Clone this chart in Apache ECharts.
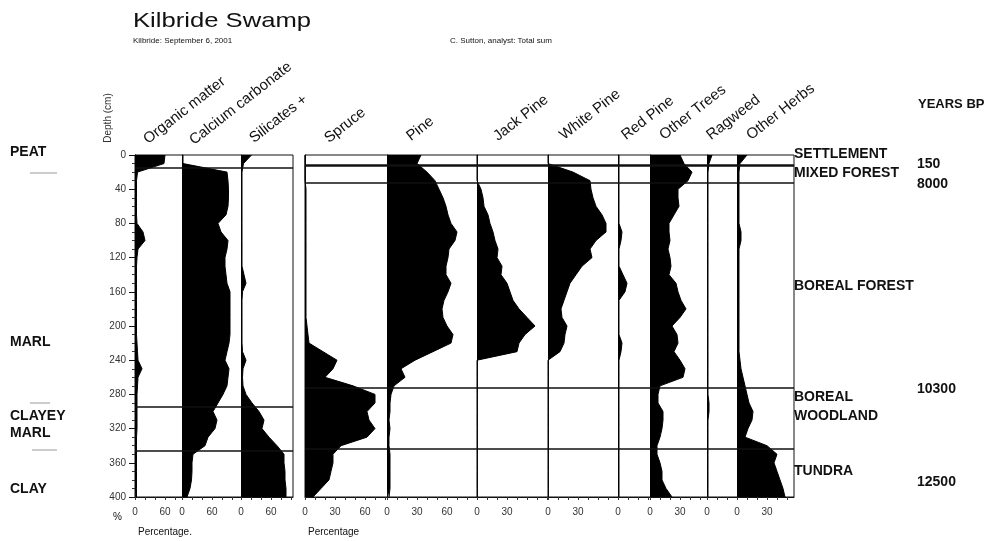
<!DOCTYPE html>
<html>
<head>
<meta charset="utf-8">
<title>Kilbride Swamp</title>
<script src="https://cdn.jsdelivr.net/npm/echarts@6/dist/echarts.min.js"></script>
<style>
html, body { margin: 0; padding: 0; background: #fff; }
#main { width: 991px; height: 541px; }
</style>
</head>
<body>
<div id="main"></div>
<script>
// depth of each sample (cm)
var depths = ['0', '10', '20', '30', '40', '50', '60', '70', '80', '90',
  '100', '110', '120', '130', '140', '150', '160', '170', '180', '190',
  '200', '210', '220', '230', '240', '250', '260', '270', '280', '290',
  '300', '310', '320', '330', '340', '350', '360', '370', '380', '390', '400'];

// sediment (%)
var organic = [60, 58, 5, 3, 3, 3, 3, 3, 4, 16, 20, 6, 4, 3, 3, 3, 3, 3, 3, 3,
  3, 3, 4, 5, 6, 14, 6, 5, 4, 4, 4, 4, 4, 3, 3, 3, 3, 3, 3, 3, 3];
var calcium = [2, 2, 90, 92, 93, 93, 92, 88, 72, 78, 92, 90, 86, 86, 88, 90, 96, 96, 96, 96,
  96, 96, 94, 90, 86, 94, 92, 90, 82, 72, 62, 70, 66, 52, 46, 22, 20, 20, 19, 16, 10];
var silicates = [21, 5, 2, 2, 2, 2, 2, 2, 2, 2, 2, 2, 2, 2, 6, 10, 3, 2, 2, 2,
  2, 2, 2, 3, 10, 4, 3, 4, 10, 22, 36, 46, 42, 56, 72, 86, 86, 88, 88, 90, 90];

// pollen (%)
var spruce = [0, 0, 0, 0, 1, 1, 1, 1, 1, 1, 1, 1, 1, 1, 1, 1, 1, 1, 1, 1,
  2, 3, 4, 18, 32, 28, 20, 48, 70, 70, 62, 64, 70, 62, 36, 28, 28, 26, 24, 16, 8];
var pine = [34, 30, 40, 48, 52, 56, 59, 61, 64, 70, 68, 62, 61, 59, 59, 64, 61, 57, 55, 56,
  60, 66, 64, 46, 28, 14, 18, 7, 4, 3, 3, 2, 3, 2, 2, 3, 3, 3, 3, 3, 2];
var jackPine = [0, 0, 0, 0, 4, 6, 7, 11, 13, 16, 18, 21, 20, 25, 24, 30, 33, 36, 42, 50,
  58, 48, 42, 40, 0, 0, 0, 0, 0, 0, 0, 0, 0, 0, 0, 0, 0, 0, 0, 0, 0];
var whitePine = [0, 0, 25, 42, 43, 45, 48, 54, 58, 58, 48, 42, 44, 34, 28, 22, 19, 16, 13, 14,
  19, 17, 16, 12, 0, 0, 0, 0, 0, 0, 0, 0, 0, 0, 0, 0, 0, 0, 0, 0, 0];
var redPine = [1, 1, 1, 1, 1, 1, 1, 1, 1, 4, 3, 1, 1, 1, 5, 9, 7, 1, 1, 1,
  1, 1, 4, 3, 1, 1, 1, 1, 1, 1, 1, 1, 1, 1, 1, 1, 1, 1, 1, 1, 1];
var otherTrees = [30, 34, 42, 38, 28, 28, 29, 24, 19, 19, 20, 18, 20, 21, 19, 26, 28, 31, 36, 30,
  22, 27, 28, 24, 30, 35, 33, 10, 8, 8, 13, 13, 12, 10, 7, 7, 10, 12, 12, 16, 22];
var ragweed = [5, 2, 1, 1, 1, 1, 1, 1, 1, 1, 1, 1, 1, 1, 1, 1, 1, 1, 1, 1,
  1, 1, 1, 1, 1, 1, 1, 1, 1, 2, 2, 1, 1, 1, 1, 1, 1, 1, 1, 1, 1];
var otherHerbs = [10, 3, 2, 2, 2, 2, 2, 2, 2, 4, 4, 2, 2, 2, 2, 2, 2, 2, 2, 2,
  2, 2, 2, 2, 3, 4, 6, 8, 10, 12, 16, 15, 11, 8, 30, 40, 37, 40, 43, 46, 48];

var columnNames = ['Organic matter', 'Calcium carbonate', 'Silicates +', 'Spruce', 'Pine',
  'Jack Pine', 'White Pine', 'Red Pine', 'Other Trees', 'Ragweed', 'Other Herbs'];
var columnData = [organic, calcium, silicates, spruce, pine, jackPine, whitePine,
  redPine, otherTrees, ragweed, otherHerbs];
var columnTicks = [[0, 60], [0, 60], [0, 60], [0, 30, 60], [0, 30, 60],
  [0, 30], [0, 30], [0], [0, 30], [0], [0, 30]];

// zone boundaries (cm)
var sedimentBounds = [15, 294, 346];
var pollenBounds = [12, 33, 272, 343];

// lithology / zone / age labels
var lithology = [['PEAT', 152], ['MARL', 342], ['CLAYEY', 416], ['MARL', 433], ['CLAY', 489]];
var zones = [['SETTLEMENT', 154], ['MIXED FOREST', 173], ['BOREAL FOREST', 286],
  ['BOREAL', 397], ['WOODLAND', 416], ['TUNDRA', 471]];
var ages = [['150', 164], ['8000', 184], ['10300', 389], ['12500', 482]];

// panel layout: left edge px, width px, axis max, tick step, header anchor
var layout = [
  {left: 135, width: 47, max: 94, step: 20, hx: 150, hy: 147},
  {left: 182, width: 59, max: 118, step: 20, hx: 196, hy: 148},
  {left: 241, width: 52, max: 104, step: 20, hx: 256, hy: 146},
  {left: 305, width: 82, max: 82, step: 10, hx: 331, hy: 146},
  {left: 387, width: 90, max: 90, step: 10, hx: 413, hy: 144},
  {left: 477, width: 71, max: 71, step: 10, hx: 500, hy: 144},
  {left: 548, width: 70, max: 70, step: 10, hx: 566, hy: 143},
  {left: 618, width: 32, max: 32, step: 10, hx: 628, hy: 143},
  {left: 650, width: 57, max: 57, step: 10, hx: 666, hy: 143},
  {left: 707, width: 30, max: 30, step: 10, hx: 713, hy: 143},
  {left: 737, width: 57, max: 57, step: 10, hx: 753, hy: 143}
];

var TOP = 155, HEIGHT = 342;
var FONT = '"Liberation Sans", Arial, sans-serif';

var grids = [], xAxes = [], yAxes = [], series = [];

// overlay grids: panel boxes, depth scale and zone lines
grids.push({left: 135, top: TOP, width: 158, height: HEIGHT, show: true,
  borderColor: '#111', borderWidth: 1, backgroundColor: 'transparent', outerBoundsMode: 'none'});
grids.push({left: 305, top: TOP, width: 489, height: HEIGHT, show: true,
  borderColor: '#111', borderWidth: 1, backgroundColor: 'transparent', outerBoundsMode: 'none'});
for (var g = 0; g < 2; g++) {
  xAxes.push({gridIndex: g, type: 'value', min: 0, max: 1, show: false});
  yAxes.push({
    gridIndex: g, type: 'value', min: 0, max: 400, interval: 40, inverse: true,
    show: g === 0,
    axisLine: {show: true, lineStyle: {color: '#111', width: 1}},
    axisTick: {show: true, length: 6, lineStyle: {color: '#111'}},
    minorTick: {show: true, splitNumber: 4, length: 3, lineStyle: {color: '#333'}},
    axisLabel: {color: '#333', fontSize: 10, margin: 9, fontFamily: FONT},
    splitLine: {show: false}
  });
}
function boundLines(list, gi) {
  return {
    type: 'line', xAxisIndex: gi, yAxisIndex: gi, data: [], silent: true, z: 5,
    markLine: {
      silent: true, animation: false, symbol: ['none', 'none'], label: {show: false},
      data: list.map(function (d, i) {
        return {yAxis: d, lineStyle: {color: '#111', type: 'solid',
          width: (gi === 1 && i === 0) ? 2.5 : 1.5}};
      })
    }
  };
}
series.push(boundLines(sedimentBounds, 0));
series.push(boundLines(pollenBounds, 1));

// one grid per profile
columnData.forEach(function (vals, k) {
  var L = layout[k], gi = k + 2, marks = columnTicks[k];
  grids.push({left: L.left, top: TOP, width: L.width, height: HEIGHT, outerBoundsMode: 'none'});
  xAxes.push({
    gridIndex: gi, type: 'value', min: 0, max: L.max, interval: L.step,
    axisLine: {show: true, lineStyle: {color: '#111', width: 1}},
    axisTick: {show: true, length: 3, lineStyle: {color: '#333'}},
    axisLabel: {
      show: true, color: '#333', fontSize: 10, margin: 10, fontFamily: FONT,
      showMinLabel: true, showMaxLabel: false,
      formatter: function (v) { return marks.indexOf(v) >= 0 ? String(v) : ''; }
    },
    splitLine: {show: false}
  });
  yAxes.push({
    gridIndex: gi, type: 'category', data: depths, inverse: true, boundaryGap: false,
    axisLine: {show: true, onZero: true, lineStyle: {color: '#111', width: 1}},
    axisTick: {show: false}, axisLabel: {show: false}, splitLine: {show: false}
  });
  series.push({
    name: columnNames[k], type: 'line', xAxisIndex: gi, yAxisIndex: gi,
    data: vals, symbol: 'none', silent: true, z: 3,
    lineStyle: {color: '#000', width: 1},
    areaStyle: {color: '#000', opacity: 1}
  });
});

// texts
var els = [];
function txt(x, y, s, font, opts) {
  var e = {type: 'text', x: x, y: y, silent: true,
    style: {text: s, font: font, fill: '#111', align: 'left', textAlign: 'left',
      verticalAlign: 'middle', textVerticalAlign: 'middle'}};
  if (opts) { for (var p in opts) { e[p] = opts[p]; } }
  els.push(e);
}
txt(133, 21, 'Kilbride Swamp', '21px ' + FONT, {scaleX: 1.22});
txt(133, 41, 'Kilbride: September 6, 2001', '8px ' + FONT);
txt(450, 41, 'C. Sutton, analyst: Total sum', '8px ' + FONT);
columnNames.forEach(function (n, k) {
  els.push({type: 'text', x: layout[k].hx, y: layout[k].hy, rotation: 38 * Math.PI / 180,
    silent: true,
    style: {text: n, font: '15px ' + FONT, fill: '#111', align: 'left', textAlign: 'left',
      verticalAlign: 'bottom', textVerticalAlign: 'bottom'}});
});
els.push({type: 'text', x: 108, y: 118, rotation: Math.PI / 2, silent: true,
  style: {text: 'Depth (cm)', font: '10px ' + FONT, fill: '#333', align: 'center',
    textAlign: 'center', verticalAlign: 'middle', textVerticalAlign: 'middle'}});
lithology.forEach(function (t) { txt(10, t[1], t[0], 'bold 14px ' + FONT); });
zones.forEach(function (t) { txt(794, t[1], t[0], 'bold 14px ' + FONT); });
ages.forEach(function (t) { txt(917, t[1], t[0], 'bold 14px ' + FONT); });
txt(918, 104, 'YEARS BP', 'bold 13px ' + FONT);
txt(113, 517, '%', '10px ' + FONT, {});
txt(138, 532, 'Percentage.', '10px ' + FONT);
txt(308, 532, 'Percentage', '10px ' + FONT);
[[30, 57, 173], [30, 50, 403], [32, 57, 450]].forEach(function (l) {
  els.push({type: 'line', silent: true, shape: {x1: l[0], y1: l[2], x2: l[1], y2: l[2]},
    style: {stroke: '#999', lineWidth: 1}});
});

var myChart = echarts.init(document.getElementById('main'));
myChart.setOption({
  backgroundColor: '#fff',
  animation: false,
  textStyle: {fontFamily: FONT},
  grid: grids,
  xAxis: xAxes,
  yAxis: yAxes,
  series: series,
  graphic: {elements: els}
});
</script>
</body>
</html>
